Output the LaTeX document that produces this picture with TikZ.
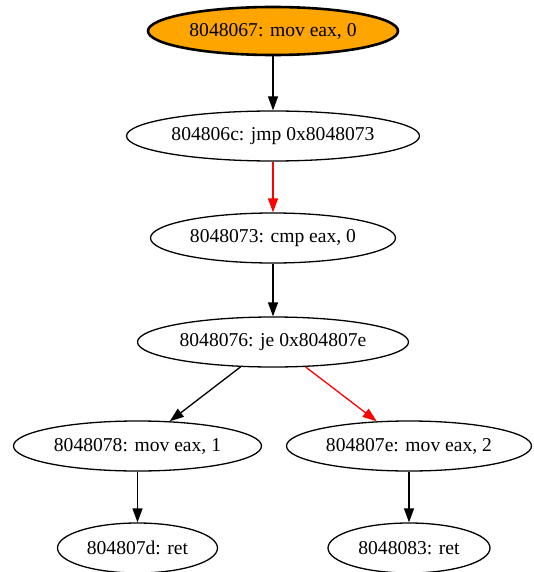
\documentclass[tikz,border=0pt]{standalone}
\usepackage{fontspec}
\setmainfont{Liberation Serif}
\usetikzlibrary{shapes.geometric,arrows.meta}
\definecolor{gvorange}{HTML}{FFA500}
\begin{document}
\begin{tikzpicture}[x=1pt,y=-1pt,
  insn/.style={draw,ellipse,line width=1.3pt,inner sep=0pt,minimum height=50pt,font=\fontsize{19.6}{22}\selectfont},
  flow/.style={line width=1.3pt,-{Triangle[length=14pt,width=10pt]}},
  taken/.style={flow,red}]
\useasboundingbox (0,0) rectangle (533,572);

\node[insn,minimum width=250pt,minimum height=48pt,fill=gvorange,line width=2.6pt] (i8048067) at (273,31) {8048067: mov eax, 0};
\node[insn,minimum width=293pt] (i804806c) at (273,136) {804806c: jmp 0x8048073};
\node[insn,minimum width=245pt] (i8048073) at (273,238) {8048073: cmp eax, 0};
\node[insn,minimum width=271pt] (i8048076) at (273,342) {8048076: je 0x804807e};
\node[insn,minimum width=248pt] (i8048078) at (137.5,446) {8048078: mov eax, 1};
\node[insn,minimum width=245pt] (i804807e) at (409,446) {804807e: mov eax, 2};
\node[insn,minimum width=160pt] (i804807d) at (137.5,548) {804807d: ret};
\node[insn,minimum width=162pt] (i8048083) at (409,548) {8048083: ret};

\draw[flow] (i8048067) -- (i804806c);
\draw[taken] (i804806c) -- (i8048073);
\draw[flow] (i8048073) -- (i8048076);
\draw[flow] (i8048076) -- (i8048078);
\draw[taken] (i8048076) -- (i804807e);
\draw[flow] (i8048078) -- (i804807d);
\draw[flow] (i804807e) -- (i8048083);
\end{tikzpicture}
\end{document}
